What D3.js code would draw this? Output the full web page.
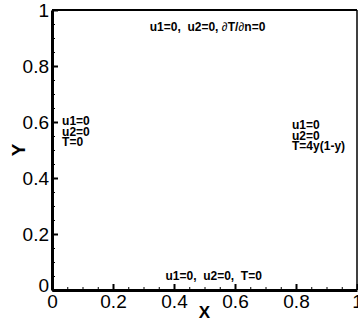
<!DOCTYPE html>
<html>
<head>
<meta charset="utf-8">
<script src="https://cdn.jsdelivr.net/npm/d3@7"></script>
<style>
  body { margin: 0; background: #fff; }
  svg { display: block; font-family: "Liberation Sans", Arial, sans-serif; }
</style>
</head>
<body>
<div id="chart"></div>
<script>
const width = 358;
const height = 321;
const margin = { top: 10, right: 1, bottom: 31, left: 52 };

// axis ticks
const xTicks = [0, 0.2, 0.4, 0.6, 0.8, 1];
const yTicks = [0, 0.2, 0.4, 0.6, 0.8, 1];
const minorTicks = d3.range(0, 1.0001, 0.05);

// boundary condition labels (nbsp keeps the wide gaps)
const bottomLabel = ["u1=0,\u00a0\u00a0u2=0,\u00a0\u00a0T=0"];
const leftLabel = ["u1=0", "u2=0", "T=0"];
const rightLabel = ["u1=0", "u2=0", "T=4y(1-y)"];

const innerW = width - margin.left - margin.right;
const innerH = height - margin.top - margin.bottom;

const svg = d3
    .select("#chart")
    .append("svg")
    .attr("width", width)
    .attr("height", height);

const g = svg
    .append("g")
    .attr("transform", `translate(${margin.left},${margin.top})`);

const xScale = d3.scaleLinear().domain([0, 1]).range([0, innerW]);
const yScale = d3.scaleLinear().domain([0, 1]).range([innerH, 0]);

// minor ticks (inward)
g.append("g")
    .attr("transform", `translate(0,${innerH})`)
    .call(d3.axisBottom(xScale).tickValues(minorTicks).tickSize(-3).tickSizeOuter(0).tickFormat(""))
    .call((a) => a.select(".domain").remove())
    .call((a) => a.selectAll("line").attr("stroke-width", 1));
g.append("g")
    .call(d3.axisLeft(yScale).tickValues(minorTicks).tickSize(-3).tickSizeOuter(0).tickFormat(""))
    .call((a) => a.select(".domain").remove())
    .call((a) => a.selectAll("line").attr("stroke-width", 1));

// frame top / right
g.append("line")
    .attr("x1", 0).attr("x2", innerW)
    .attr("y1", 0).attr("y2", 0)
    .attr("stroke", "#000").attr("stroke-width", 2);
g.append("line")
    .attr("x1", innerW).attr("x2", innerW)
    .attr("y1", 0).attr("y2", innerH)
    .attr("stroke", "#000").attr("stroke-width", 1.5);

// major axes
const xAxis = d3.axisBottom(xScale)
    .tickValues(xTicks)
    .tickSize(-6)
    .tickSizeOuter(0)
    .tickPadding(5)
    .tickFormat((d) => d3.format("")(d));
g.append("g")
    .attr("transform", `translate(0,${innerH})`)
    .call(xAxis)
    .call((a) => a.select(".domain").attr("stroke-width", 3))
    .call((a) => a.selectAll("line").attr("stroke-width", 2))
    .call((a) => a.selectAll("text").attr("font-size", 19).attr("font-family", "Liberation Sans, Arial, sans-serif"));

const yAxis = d3.axisLeft(yScale)
    .tickValues(yTicks)
    .tickSize(-6)
    .tickSizeOuter(0)
    .tickPadding(3)
    .tickFormat((d) => d3.format("")(d));
g.append("g")
    .call(yAxis)
    .call((a) => a.select(".domain").attr("stroke-width", 3))
    .call((a) => a.selectAll("line").attr("stroke-width", 2))
    .call((a) => a.selectAll("text").attr("font-size", 19).attr("font-family", "Liberation Sans, Arial, sans-serif"))
    .call((a) => a.selectAll(".tick").filter((d) => d === 0).select("text").attr("dy", "0.1em"));

// axis titles
svg.append("text")
    .attr("x", margin.left + xScale(0.5))
    .attr("y", 318)
    .attr("text-anchor", "middle")
    .attr("font-size", 17)
    .attr("font-weight", "bold")
    .text("X");

svg.append("text")
    .attr("transform", `translate(25,${margin.top + yScale(0.5)}) rotate(-90)`)
    .attr("text-anchor", "middle")
    .attr("font-size", 19)
    .attr("font-weight", "bold")
    .text("Y");

// boundary condition notes
const note = g.append("g")
    .attr("font-size", 12)
    .attr("font-weight", "bold");

const topNote = note.append("text")
    .attr("x", xScale(0.51))
    .attr("y", yScale(0.925))
    .attr("text-anchor", "middle");
topNote.append("tspan").text("u1=0,\u00a0\u00a0u2=0,\u00a0");
topNote.append("tspan").attr("font-weight", "normal").text("∂");
topNote.append("tspan").text("T/");
topNote.append("tspan").attr("font-weight", "normal").text("∂");
topNote.append("tspan").text("n=0");

note.append("text")
    .attr("x", xScale(0.53))
    .attr("y", yScale(0.036))
    .attr("text-anchor", "middle")
    .text(bottomLabel[0]);

note.append("text")
    .selectAll("tspan")
    .data(leftLabel)
    .join("tspan")
    .attr("x", xScale(0.033))
    .attr("y", (d, i) => yScale(0.6) + 3 + i * 10.5)
    .text((d) => d);

note.append("text")
    .selectAll("tspan")
    .data(rightLabel)
    .join("tspan")
    .attr("x", xScale(0.787))
    .attr("y", (d, i) => yScale(0.6) + 7 + i * 10.5)
    .text((d) => d);
</script>
</body>
</html>
